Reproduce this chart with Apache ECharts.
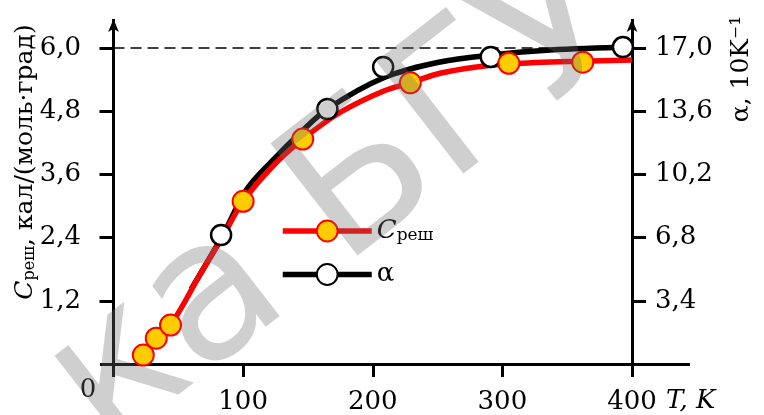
<!DOCTYPE html>
<html><head><meta charset="utf-8">
<script src="https://cdn.jsdelivr.net/npm/echarts@6/dist/echarts.min.js"></script>
<style>html,body{margin:0;padding:0;background:#fff}#c{width:764px;height:415px}</style>
</head><body><div id="c"></div>
<script>
// ---- data ----
const xTicks = [100, 200, 300, 400];
const leftTicks = [1.2, 2.4, 3.6, 4.8, 6.0];
const rightTicks = [3.4, 6.8, 10.2, 13.6, 17.0];

// measured points, C_реш (left axis)
const cT   = [23, 33, 44, 100, 146, 229, 305, 362];
const cVal = [0.17, 0.49, 0.74, 3.09, 4.27, 5.34, 5.71, 5.73];
// measured points, alpha (right axis)
const aT   = [83, 165, 208, 291, 393];
const aVal = [6.94, 13.72, 15.98, 16.52, 17.05];

// fitted curves as drawn
const cCurveT = [22, 44, 67, 84, 100, 123, 146, 175, 208, 229, 252, 280, 306, 362, 400];
const cCurveV = [0.13, 0.74, 1.71, 2.41, 3.09, 3.76, 4.27, 4.78, 5.18, 5.34, 5.52, 5.64, 5.70, 5.75, 5.77];
const aCurveT = [60, 84, 103, 123, 144, 165, 208, 252, 291, 337, 400];
const aCurveV = [4.03, 6.89, 9.41, 10.97, 12.43, 13.72, 15.39, 16.25, 16.62, 16.89, 17.05];

const refLevel = 6.0;

const zip = (a, b) => a.map((v, i) => [v, b[i]]);
const FF = 'DejaVu Serif';
const fmt1 = v => Number(v).toFixed(1).replace('.', ',');

const chart = echarts.init(document.getElementById('c'), null, {renderer: 'canvas'});
const axisLineStyle = {color: '#000', width: 3, cap: 'butt'};

chart.setOption({
  animation: false,
  backgroundColor: '#fff',
  grid: {left: 100, right: 74, top: 19, bottom: 38, containLabel: false, outerBoundsMode: 'none'},
  xAxis: {
    type: 'value', min: -10.42, max: 444.75,
    splitLine: {show: false},
    axisLine: {show: true, onZero: true, lineStyle: axisLineStyle},
    axisTick: {show: true, customValues: xTicks, length: 13, inside: false, lineStyle: {color: '#000', width: 3}},
    axisLabel: {customValues: xTicks, margin: 12, color: '#000', fontFamily: FF, fontSize: 26, formatter: v => String(v)}
  },
  yAxis: [{
    type: 'value', min: -0.2468, max: 6.5506,
    splitLine: {show: false},
    axisLine: {show: true, onZero: true, lineStyle: axisLineStyle, symbol: ['none', 'arrow'], symbolSize: [8, 13]},
    axisTick: {show: true, customValues: leftTicks, length: 14, lineStyle: {color: '#000', width: 3}},
    axisLabel: {customValues: leftTicks, margin: 19, color: '#000', fontFamily: FF, fontSize: 26, formatter: fmt1}
  }, {
    type: 'value', position: 'right', offset: -58, min: -0.6994, max: 18.560,
    splitLine: {show: false},
    axisLine: {show: true, onZero: false, lineStyle: axisLineStyle, symbol: ['none', 'arrow'], symbolSize: [8, 13]},
    axisTick: {show: true, customValues: rightTicks, length: 14, lineStyle: {color: '#000', width: 3}},
    axisLabel: {customValues: rightTicks, margin: 23, color: '#000', fontFamily: FF, fontSize: 26, formatter: fmt1}
  }],
  legend: {
    orient: 'vertical', left: 280, top: 218, padding: 0,
    itemWidth: 89, itemHeight: 26, itemGap: 17,
    data: ['Cреш', 'α'],
    lineStyle: {width: 5.5},
    itemStyle: {borderWidth: 2},
    textStyle: {
      color: '#000', fontFamily: FF, fontSize: 26,
      rich: {
        c: {fontFamily: FF, fontSize: 26, fontStyle: 'italic', color: '#000'},
        s: {fontFamily: FF, fontSize: 17, color: '#000', padding: [10, 0, 0, 0]},
        a: {fontFamily: FF, fontSize: 26, color: '#000'}
      }
    },
    formatter: n => n === 'Cреш' ? '{c|C}{s|реш}' : '{a|α}'
  },
  series: [{
    name: 'α', type: 'line', yAxisIndex: 1, z: 2,
    data: zip(aCurveT, aCurveV), smooth: 0.35, showSymbol: false, symbol: 'circle',
    lineStyle: {color: '#000', width: 5.5},
    itemStyle: {color: '#fff', borderColor: '#000', borderWidth: 2.5},
    markLine: {
      silent: true, symbol: 'none', z: 1,
      label: {show: false},
      lineStyle: {color: '#000', width: 1.6, type: [11, 6]},
      data: [[{coord: [0, refLevel * 17 / 6]}, {coord: [400, refLevel * 17 / 6]}]]
    }
  }, {
    name: 'Cреш', type: 'line', yAxisIndex: 0, z: 3,
    data: zip(cCurveT, cCurveV), smooth: 0.35, showSymbol: false, symbol: 'circle',
    lineStyle: {color: '#ff0000', width: 5.5},
    itemStyle: {color: '#ffcc00', borderColor: '#ff0000', borderWidth: 2}
  }, {
    name: 'α-pts', type: 'scatter', yAxisIndex: 1, z: 4,
    data: zip(aT, aVal), symbol: 'circle', symbolSize: 20,
    itemStyle: {color: '#fff', borderColor: '#000', borderWidth: 2.5, opacity: 1}
  }, {
    name: 'C-pts', type: 'scatter', yAxisIndex: 0, z: 5,
    data: zip(cT, cVal), symbol: 'circle', symbolSize: 21,
    itemStyle: {color: '#ffcc00', borderColor: '#ff0000', borderWidth: 2, opacity: 1}
  }],
  graphic: [{
    type: 'text', x: 25, y: 162, rotation: Math.PI / 2,
    style: {
      text: '{c|C}{s|реш}{n|, кал/(моль·град)}', align: 'center', verticalAlign: 'middle',
      rich: {
        c: {fontFamily: FF, fontSize: 25, fontStyle: 'italic', fill: '#000'},
        s: {fontFamily: FF, fontSize: 16, fill: '#000', padding: [10, 0, 0, 0]},
        n: {fontFamily: FF, fontSize: 25, fill: '#000'}
      }
    }
  }, {
    type: 'text', x: 741, y: 69, rotation: Math.PI / 2,
    style: {text: 'α, 10K⁻¹', font: '25px "DejaVu Serif"', fill: '#000', align: 'center', verticalAlign: 'middle'}
  }, {
    type: 'text', x: 88, y: 390,
    style: {text: '0', font: '26px "DejaVu Serif"', fill: '#000', align: 'center', verticalAlign: 'middle'}
  }, {
    type: 'text', x: 666, y: 401,
    style: {text: 'T, K', font: 'italic 26px "DejaVu Serif"', fill: '#000', align: 'left', verticalAlign: 'middle'}
  }, {
    type: 'text', x: 340, y: 205, rotation: 0.66, z: 100,
    style: {text: 'ка БГУ', font: '195px "DejaVu Sans"', fill: 'rgba(110,110,110,0.33)', align: 'center', verticalAlign: 'middle'}
  }]
});
</script></body></html>
